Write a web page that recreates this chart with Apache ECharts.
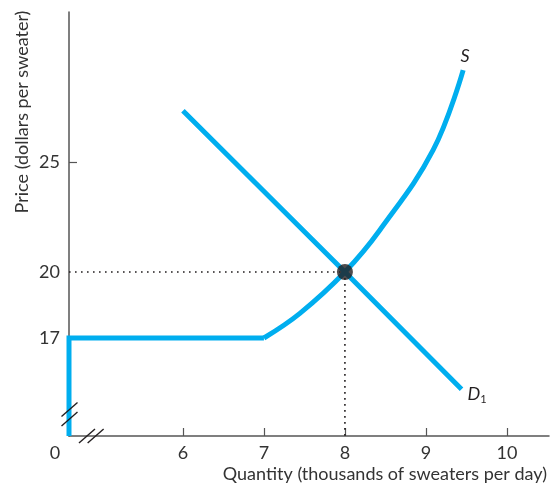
<!DOCTYPE html>
<html><head><meta charset="utf-8">
<script src="https://cdn.jsdelivr.net/npm/echarts@6/dist/echarts.min.js"></script>
<style>html,body{margin:0;padding:0;background:#fff}#c{width:551px;height:489px}</style>
</head><body><div id="c"></div>
<script>
// axis extents (broken axes: the origin is labelled 0)
const xMin = 4.593, xMax = 10.52;
const yMin = 12.545, yMax = 31.82;
const xTicks = [6, 7, 8, 9, 10];
const yLabels = [17, 20, 25];
const yTicks = [25];
// supply curve S: flat/vertical part and rising part
const supplyFlat = [[4.593, 12.545], [4.593, 17], [7, 17]];
const supplyRise = [[7, 17], [7.444, 18.12], [8, 20], [8.432, 21.91], [9.09, 25.55], [9.46, 29.18]];
// demand curve D1
const demand = [[6, 27.33], [8, 20], [9.44, 14.67]];
// equilibrium
const equilibrium = [8, 20];
// axis break positions
const yBreaks = [13.75, 13.32];
const xBreaks = [4.815, 4.922];

const blue = '#00aeef', ink = '#231f20', font = 'Lato';
const chart = echarts.init(document.getElementById('c'));

chart.setOption({
  animation: false,
  grid: {left: 69, right: 2, top: 12, bottom: 53},
  xAxis: {type: 'value', min: xMin, max: xMax, splitLine: {show: false},
    axisLine: {onZero: false, lineStyle: {color: '#555', width: 1.5}},
    axisTick: {customValues: xTicks, inside: true, length: 8, lineStyle: {color: '#555', width: 1.2}},
    axisLabel: {customValues: [xMin].concat(xTicks), margin: 8, fontSize: 18, color: '#333', fontFamily: font,
      formatter: v => Math.abs(v - xMin) < 1e-6 ? '{o|0}' : String(v),
      rich: {o: {fontSize: 18, color: '#333', fontFamily: font, padding: [0, 28, 0, 0]}}},
    name: 'Quantity (thousands of sweaters per day)', nameLocation: 'end', nameGap: -2,
    nameTextStyle: {align: 'right', verticalAlign: 'top', padding: [29, 0, 0, 0], fontSize: 18, color: '#333', fontFamily: font}},
  yAxis: {type: 'value', min: yMin, max: yMax, splitLine: {show: false},
    axisLine: {onZero: false, lineStyle: {color: '#555', width: 1.5}},
    axisTick: {customValues: yTicks, inside: true, length: 8, lineStyle: {color: '#555', width: 1.2}},
    axisLabel: {customValues: yLabels, margin: 9, fontSize: 18, color: '#333', fontFamily: font}},
  series: [
    {type: 'line', data: [[xMin, equilibrium[1]], equilibrium, [equilibrium[0], yMin]], symbol: 'none', z: 1,
      lineStyle: {color: ink, width: 1.6, type: [1.6, 4.4]}},
    {type: 'line', data: supplyFlat, symbol: 'none', z: 2,
      lineStyle: {color: blue, width: 5, cap: 'butt', join: 'miter'}},
    {type: 'line', data: supplyRise, symbol: 'none', smooth: 0.4, z: 2,
      lineStyle: {color: blue, width: 5, cap: 'butt'},
      endLabel: {show: true, formatter: 'S', distance: 0, align: 'center', offset: [2, -14],
        fontStyle: 'italic', fontSize: 18, color: ink, fontFamily: font}},
    {type: 'line', data: demand, symbol: 'none', z: 2, lineStyle: {color: blue, width: 5, cap: 'butt'},
      endLabel: {show: true, distance: 5, offset: [1, 5], formatter: '{d|D}{s|1}',
        rich: {d: {fontStyle: 'italic', fontSize: 18, color: ink, fontFamily: font},
               s: {fontSize: 11, color: ink, fontFamily: font, verticalAlign: 'bottom', padding: [10, 0, 0, 0]}}}},
    {type: 'scatter', data: [equilibrium], symbolSize: 16, itemStyle: {color: ink}, z: 5}
  ]
});

const g = [];
yBreaks.forEach(v => {
  const p = chart.convertToPixel({gridIndex: 0}, [xMin, v]);
  g.push({type: 'line', shape: {x1: p[0] - 7.5, y1: p[1] + 7, x2: p[0] + 8.5, y2: p[1] - 7}, style: {stroke: ink, lineWidth: 1.4}, z: 10});
});
xBreaks.forEach(v => {
  const p = chart.convertToPixel({gridIndex: 0}, [v, yMin]);
  g.push({type: 'line', shape: {x1: p[0] - 8, y1: p[1] + 7, x2: p[0] + 8, y2: p[1] - 7}, style: {stroke: ink, lineWidth: 1.4}, z: 10});
});
g.push({type: 'text', x: 22, y: 112, rotation: Math.PI / 2,
  style: {text: 'Price (dollars per sweater)', fontSize: 18, fill: '#333', fontFamily: font, align: 'center', verticalAlign: 'middle'}});
chart.setOption({graphic: g});
</script></body></html>
